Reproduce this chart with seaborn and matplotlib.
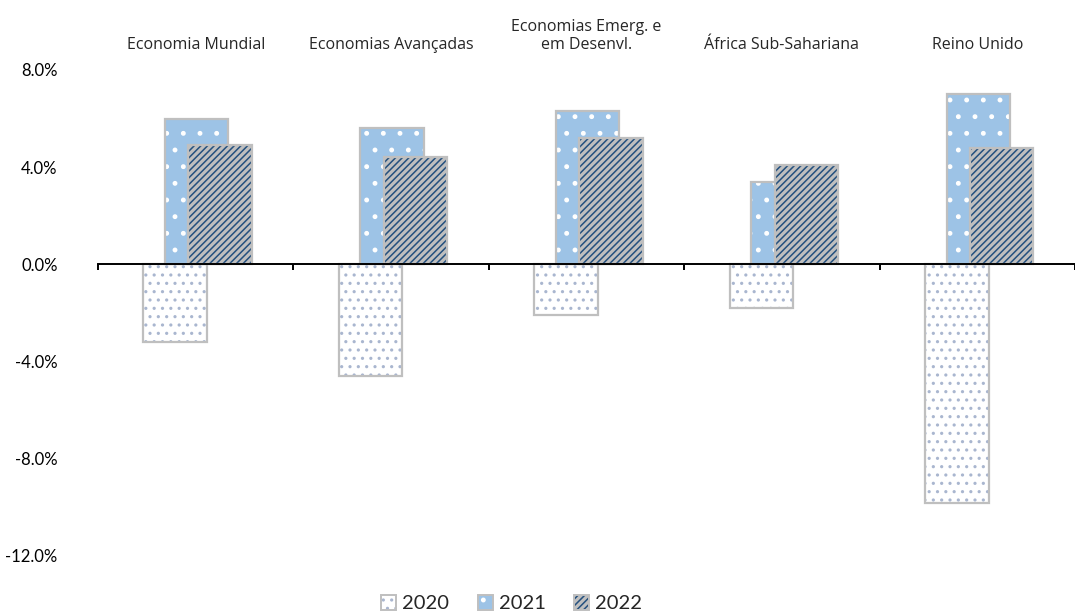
import matplotlib
matplotlib.use("Agg")
import matplotlib.pyplot as plt
from matplotlib.patches import Rectangle, Patch
from matplotlib.legend_handler import HandlerTuple
from matplotlib.ticker import FixedLocator, FuncFormatter
import seaborn as sns
import numpy as np

# Real GDP growth (%), projections
categories = [
    "Economia Mundial",
    "Economias Avançadas",
    "Economias Emerg. e\nem Desenvl.",
    "África Sub-Sahariana",
    "Reino Unido",
]
years = ["2020", "2021", "2022"]
growth_2020 = [-3.2, -4.6, -2.1, -1.8, -9.8]
growth_2021 = [6.0, 5.6, 6.3, 3.4, 7.0]
growth_2022 = [4.9, 4.4, 5.2, 4.1, 4.8]
y_ticks = [-12, -8, -4, 0, 4, 8]

series = [growth_2020, growth_2021, growth_2022]

# appearance of each series: (face, hatch pattern, hatch colour, offset)
styles = [
    dict(face="#FFFFFF", hatch="..", hcolor="#A9B6CF", offset=-0.105),
    dict(face="#9DC3E6", hatch=".", hcolor="#FFFFFF", offset=0.005),
    dict(face="#BFBFBF", hatch="/////", hcolor="#24507E", offset=0.125),
]
edge_grey = "#BFBFBF"
bar_width = 0.325

sns.set_theme(style="white")
plt.rcParams["font.family"] = ["Lato", "DejaVu Sans"]
plt.rcParams["hatch.linewidth"] = 1.1

fig = plt.figure(figsize=(10.75, 6.16), dpi=100)
left = 98 / 1075
ax = fig.add_axes([left, 1 - 556 / 616, 1 - left, (556 - 70) / 616])

idx = np.arange(len(categories))
legend_handles = []
for k, (vals, st) in enumerate(zip(series, styles)):
    before = len(ax.patches)
    sns.barplot(x=idx + st["offset"], y=vals, native_scale=True,
                width=bar_width, color=st["face"], saturation=1,
                errorbar=None, ax=ax)
    z = 2 + k
    for p in ax.patches[before:]:
        p.set_facecolor(st["face"])
        p.set_hatch(st["hatch"])
        p.set_edgecolor(st["hcolor"])  # hatch takes the edge colour
        p.set_linewidth(0)
        p.set_zorder(z)
        outline = Rectangle(p.get_xy(), p.get_width(), p.get_height(),
                            fill=False, edgecolor=edge_grey, linewidth=1.6,
                            zorder=z + 0.5)
        ax.add_patch(outline)
    h_fill = Patch(facecolor=st["face"], hatch=st["hatch"],
                   edgecolor=st["hcolor"], linewidth=0)
    h_edge = Patch(fill=False, edgecolor=edge_grey, linewidth=1.4)
    legend_handles.append((h_fill, h_edge))

# axes limits and y ticks
span = (1075 - 98) / 197
ax.set_xlim(-0.5, -0.5 + span)
ax.set_ylim(-12, 8)
ax.yaxis.set_major_locator(FixedLocator(y_ticks))
ax.yaxis.set_major_formatter(FuncFormatter(lambda v, _: f"{v:.1f}%"))
ax.tick_params(axis="y", length=0, pad=29, labelsize=12, labelcolor="#000000")

# spines: only a zero line with category separators
for s in ["left", "right", "top"]:
    ax.spines[s].set_visible(False)
ax.spines["bottom"].set_position(("data", 0))
ax.spines["bottom"].set_color("#000000")
ax.spines["bottom"].set_linewidth(1.4)
ax.spines["bottom"].set_zorder(10)

ax.set_xticks(idx)
ax.set_xticklabels(categories, fontfamily=["Open Sans", "DejaVu Sans"])
ax.set_xticks(np.arange(-0.5, len(categories), 1.0), minor=True)
ax.tick_params(axis="x", which="major", length=0, top=False, bottom=False,
               labeltop=True, labelbottom=False, pad=12, labelsize=11.5)
ax.tick_params(axis="x", which="minor", bottom=True, top=False,
               direction="out", length=4, width=1.4, color="#000000")
ax.set_xlabel("")
ax.set_ylabel("")
ax.grid(False)

fig.legend(legend_handles, years, loc="center", bbox_to_anchor=(0.476, 0.02),
           ncol=3, frameon=False, fontsize=14.5, handlelength=0.75,
           handleheight=0.75, handletextpad=0.3, columnspacing=1.4,
           handler_map={tuple: HandlerTuple(ndivide=1)})

fig.savefig("out.png", dpi=100)
